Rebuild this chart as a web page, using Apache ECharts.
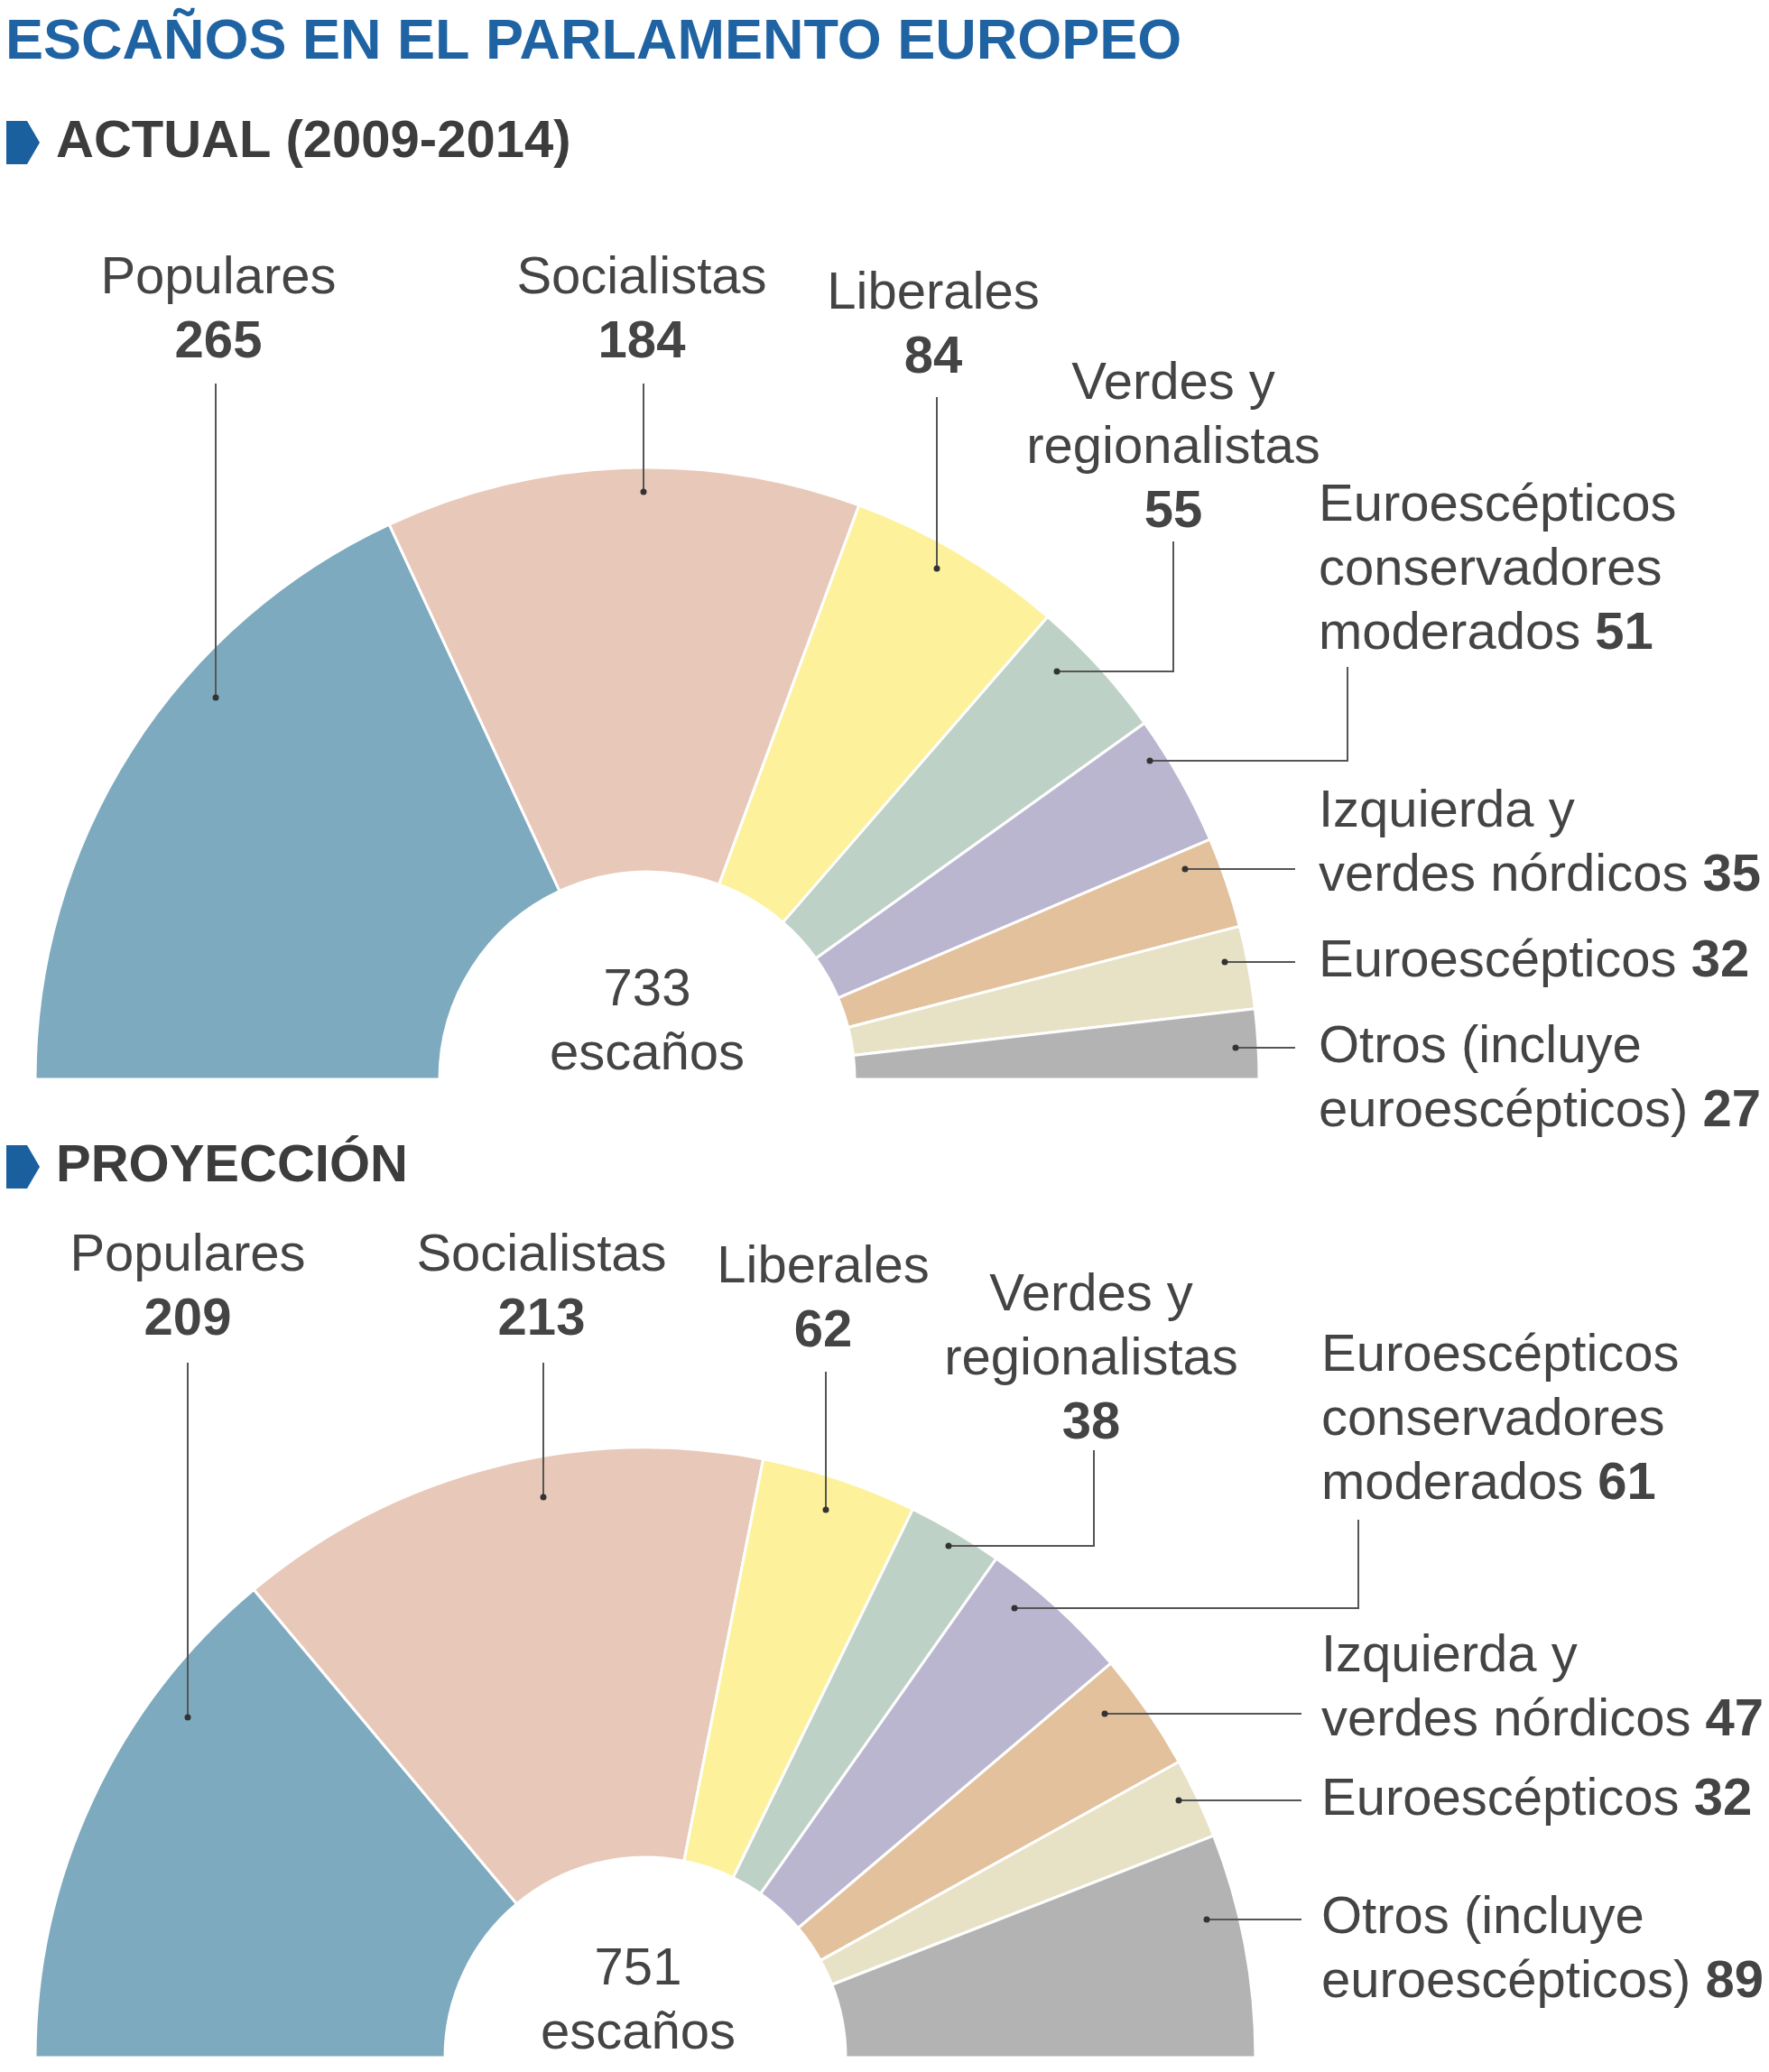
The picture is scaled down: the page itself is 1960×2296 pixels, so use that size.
<!DOCTYPE html>
<html><head><meta charset="utf-8">
<script src="https://cdn.jsdelivr.net/npm/echarts@6/dist/echarts.min.js"></script>
<style>html,body{margin:0;padding:0;background:#fff}#c{width:1960px;height:2296px}</style>
</head><body><div id="c"></div>
<script>
const categories = ['Populares','Socialistas','Liberales','Verdes y\nregionalistas','Euroescépticos\nconservadores\nmoderados','Izquierda y\nverdes nórdicos','Euroescépticos','Otros (incluye\neuroescépticos)'];
const actualValues = [265,184,84,55,51,35,32,27];
const proyeccionValues = [209,213,62,38,61,47,32,89];
const colors = ['#7eaabf','#e8c8b9','#fdf29b','#bed1c7','#bab6cf','#e2c19c','#e7e2c6','#b3b3b3'];

const layoutTop = [
 [242,309,'center',[[239,425],[239,773]]],
 [711,309,'center',[[713,425],[713,545]]],
 [1034,326,'center',[[1038,440],[1038,630]]],
 [1300,426,'center',[[1300,600],[1300,744],[1171,744]]],
 [1461,561,'left',[[1493,739],[1493,843],[1274,843]]],
 [1461,900,'left',[[1435,963],[1313,963]]],
 [1461,1066,'left',[[1435,1066],[1357,1066]]],
 [1461,1161,'left',[[1435,1161],[1369,1161]]]
];
const layoutBot = [
 [208,1392,'center',[[208,1510],[208,1903]]],
 [600,1392,'center',[[602,1510],[602,1659]]],
 [912,1405,'center',[[915,1520],[915,1673]]],
 [1209,1436,'center',[[1212,1607],[1212,1713],[1051,1713]]],
 [1464,1503,'left',[[1505,1684],[1505,1782],[1124,1782]]],
 [1464,1836,'left',[[1442,1899],[1224,1899]]],
 [1464,1995,'left',[[1442,1995],[1306,1995]]],
 [1464,2126,'left',[[1442,2127],[1337,2127]]]
];

const LH = 71, FS = 58, TC = '#444';
function labels(vals, layout){
  const g = [];
  vals.forEach((v,i)=>{
    const [x,y,align,pts] = layout[i];
    const lines = categories[i].split('\n');
    let txt;
    if(align==='center'){ txt = lines.map(l=>'{n|'+l+'}').join('\n') + '\n{b|'+v+'}'; }
    else { txt = lines.map((l,k)=>'{n|'+l+'}'+(k===lines.length-1?'{b| '+v+'}':'')).join('\n'); }
    g.push({type:'text', x:x, y:y-LH/2, style:{text:txt, align:align, verticalAlign:'top', fill:TC,
      rich:{n:{fontSize:FS,fontFamily:'Liberation Sans, Arial',fill:TC,lineHeight:LH},
            b:{fontSize:FS,fontFamily:'Liberation Sans, Arial',fontWeight:'bold',fill:TC,lineHeight:LH}}}});
    g.push({type:'polyline', shape:{points:pts}, style:{stroke:'#555',lineWidth:2,fill:null}, z:10});
    const e = pts[pts.length-1];
    g.push({type:'circle', shape:{cx:e[0],cy:e[1],r:3.5}, style:{fill:'#333'}, z:10});
  });
  return g;
}
function center(total, cx, cy){
  return {type:'text', x:cx, y:cy, style:{text:total+'\nescaños', align:'center', verticalAlign:'top',
    fontSize:FS, lineHeight:LH, fontFamily:'Liberation Sans, Arial', fill:TC}};
}
function heading(txt,y){
  return [{type:'polygon', shape:{points:[[7,y-24],[30,y-24],[44,y],[30,y+24],[7,y+24]]}, style:{fill:'#1a5f9e'}},
          {type:'text', x:62, y:y, style:{text:txt, verticalAlign:'middle', fontSize:58, fontWeight:'bold', fontFamily:'Liberation Sans, Arial', fill:'#3c3c3c'}}];
}
const sum = a=>a.reduce((s,v)=>s+v,0);
function pieSeries(vals, c, r){
  return {type:'pie', center:c, radius:r, startAngle:180, endAngle:0, clockwise:true, silent:true,
    label:{show:false}, labelLine:{show:false},
    itemStyle:{borderColor:'#fff',borderWidth:3},
    data: vals.map((v,i)=>({name:categories[i].replace(/\n/g,' '), value:v, itemStyle:{color:colors[i]}}))};
}
const chart = echarts.init(document.getElementById('c'));
chart.setOption({
  animation:false,
  series:[pieSeries(actualValues,[717,1196],[230,678]), pieSeries(proyeccionValues,[715,2280],[222,676])],
  graphic:[
    {type:'text', x:6, y:48, style:{text:'ESCAÑOS EN EL PARLAMENTO EUROPEO', verticalAlign:'middle', fontSize:63, fontWeight:'bold', fontFamily:'Liberation Sans, Arial', fill:'#1f63a3'}},
    ...heading('ACTUAL (2009-2014)',158),
    ...heading('PROYECCIÓN',1293),
    ...labels(actualValues,layoutTop),
    ...labels(proyeccionValues,layoutBot),
    center(sum(actualValues),717,1062),
    center(sum(proyeccionValues),707,2147)
  ]
});
</script></body></html>
